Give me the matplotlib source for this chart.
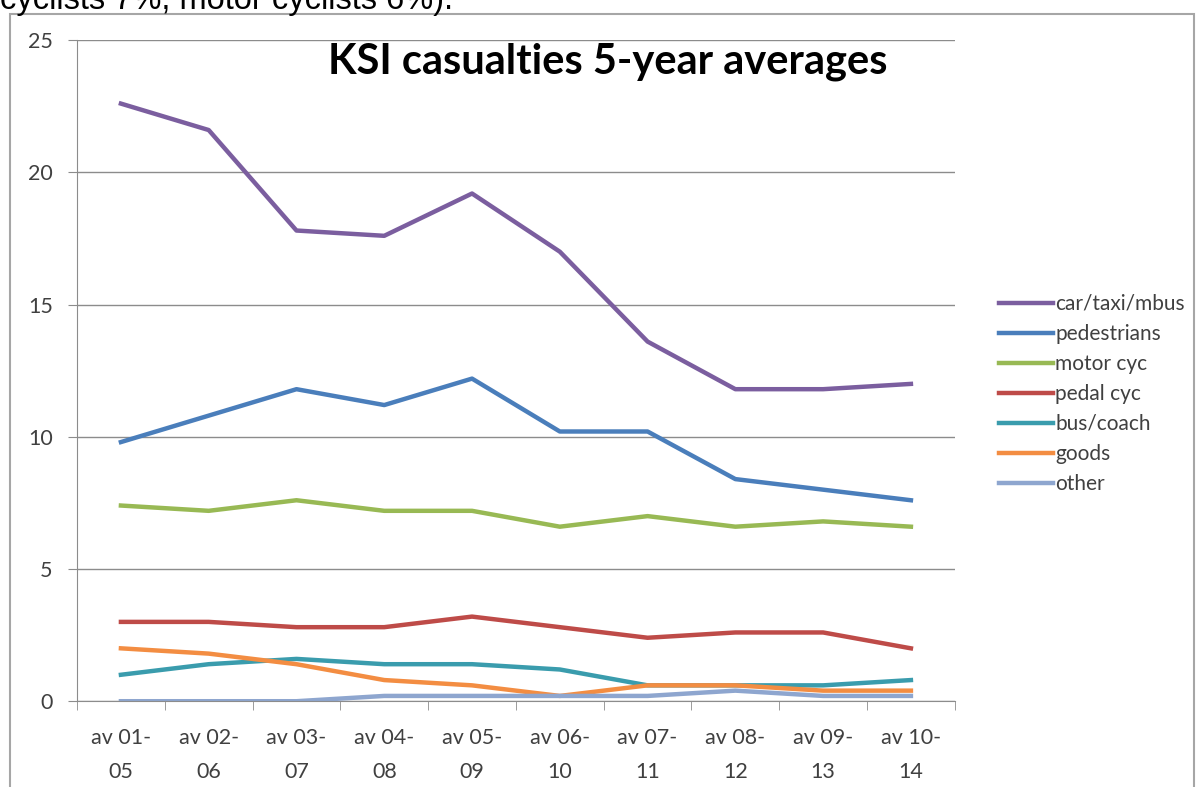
import matplotlib

matplotlib.use("Agg")
import matplotlib.pyplot as plt
from matplotlib.patches import Rectangle

periods = ["av 01-\n05", "av 02-\n06", "av 03-\n07", "av 04-\n08", "av 05-\n09",
           "av 06-\n10", "av 07-\n11", "av 08-\n12", "av 09-\n13", "av 10-\n14"]

car = [22.6, 21.6, 17.8, 17.6, 19.2, 17.0, 13.6, 11.8, 11.8, 12.0]
pedestrians = [9.8, 10.8, 11.8, 11.2, 12.2, 10.2, 10.2, 8.4, 8.0, 7.6]
motor_cyc = [7.4, 7.2, 7.6, 7.2, 7.2, 6.6, 7.0, 6.6, 6.8, 6.6]
pedal_cyc = [3.0, 3.0, 2.8, 2.8, 3.2, 2.8, 2.4, 2.6, 2.6, 2.0]
bus_coach = [1.0, 1.4, 1.6, 1.4, 1.4, 1.2, 0.6, 0.6, 0.6, 0.8]
goods = [2.0, 1.8, 1.4, 0.8, 0.6, 0.2, 0.6, 0.6, 0.4, 0.4]
other = [0.0, 0.0, 0.0, 0.2, 0.2, 0.2, 0.2, 0.4, 0.2, 0.2]

series = [
    ("car/taxi/mbus", car, "#7b5e9f"),
    ("pedestrians", pedestrians, "#4a7ebb"),
    ("motor cyc", motor_cyc, "#98b954"),
    ("pedal cyc", pedal_cyc, "#be4b48"),
    ("bus/coach", bus_coach, "#3a9cad"),
    ("goods", goods, "#f38d42"),
    ("other", other, "#8ea6cf"),
]

plt.rcParams["font.family"] = ["Lato", "DejaVu Sans"]

fig = plt.figure(figsize=(11.98, 7.87), dpi=100)
ax = fig.add_axes([0.0643, 0.109, 0.7327, 0.840])

x = list(range(len(periods)))
for label, values, color in series:
    ax.plot(x, values, color=color, lw=3.2, label=label, solid_joinstyle="round")

ax.set_xlim(-0.5, len(periods) - 0.5)
ax.set_ylim(0, 25)
ax.set_yticks([0, 5, 10, 15, 20, 25])
ax.grid(axis="y", color="#8c8c8c", lw=1)
ax.set_axisbelow(True)

ax.set_xticks(x)
ax.set_xticklabels(periods, fontsize=15.5, color="#404040", linespacing=1.87)
ax.set_xticks([i - 0.5 for i in range(len(periods) + 1)], minor=True)
ax.tick_params(axis="x", which="major", length=0, pad=19)
ax.tick_params(axis="x", which="minor", length=6.5, color="#8c8c8c", direction="out")
ax.tick_params(axis="y", length=6.5, color="#8c8c8c", labelsize=15.5, labelcolor="#404040", pad=11)

for side in ["top", "right"]:
    ax.spines[side].set_visible(False)
ax.spines["left"].set_color("#8c8c8c")
ax.spines["bottom"].set_color("#8c8c8c")

ax.text(0.286, 0.9489, "KSI casualties 5-year averages", transform=ax.transAxes,
        ha="left", va="baseline", fontsize=30, fontweight="bold", color="black")

ax.legend(loc="center left", bbox_to_anchor=(1.041, 0.465), frameon=False,
          fontsize=15, handlelength=2.6, handletextpad=0.1, labelspacing=0.48,
          labelcolor="#404040", borderaxespad=0)

# chart frame and the cut-off sentence above it
fig.patches.append(Rectangle((10 / 1198, -0.01), 1184 / 1198, 1 - 14 / 787 + 0.01,
                             transform=fig.transFigure, fill=False,
                             edgecolor="#a6a6a6", lw=1.5))
fig.text(0.0, 1 - 9 / 787, "cyclists 7%, motor cyclists 6%).", fontsize=23.5,
         family=["Liberation Sans"], va="baseline", ha="left", color="black")

fig.savefig("out.png", dpi=100)
